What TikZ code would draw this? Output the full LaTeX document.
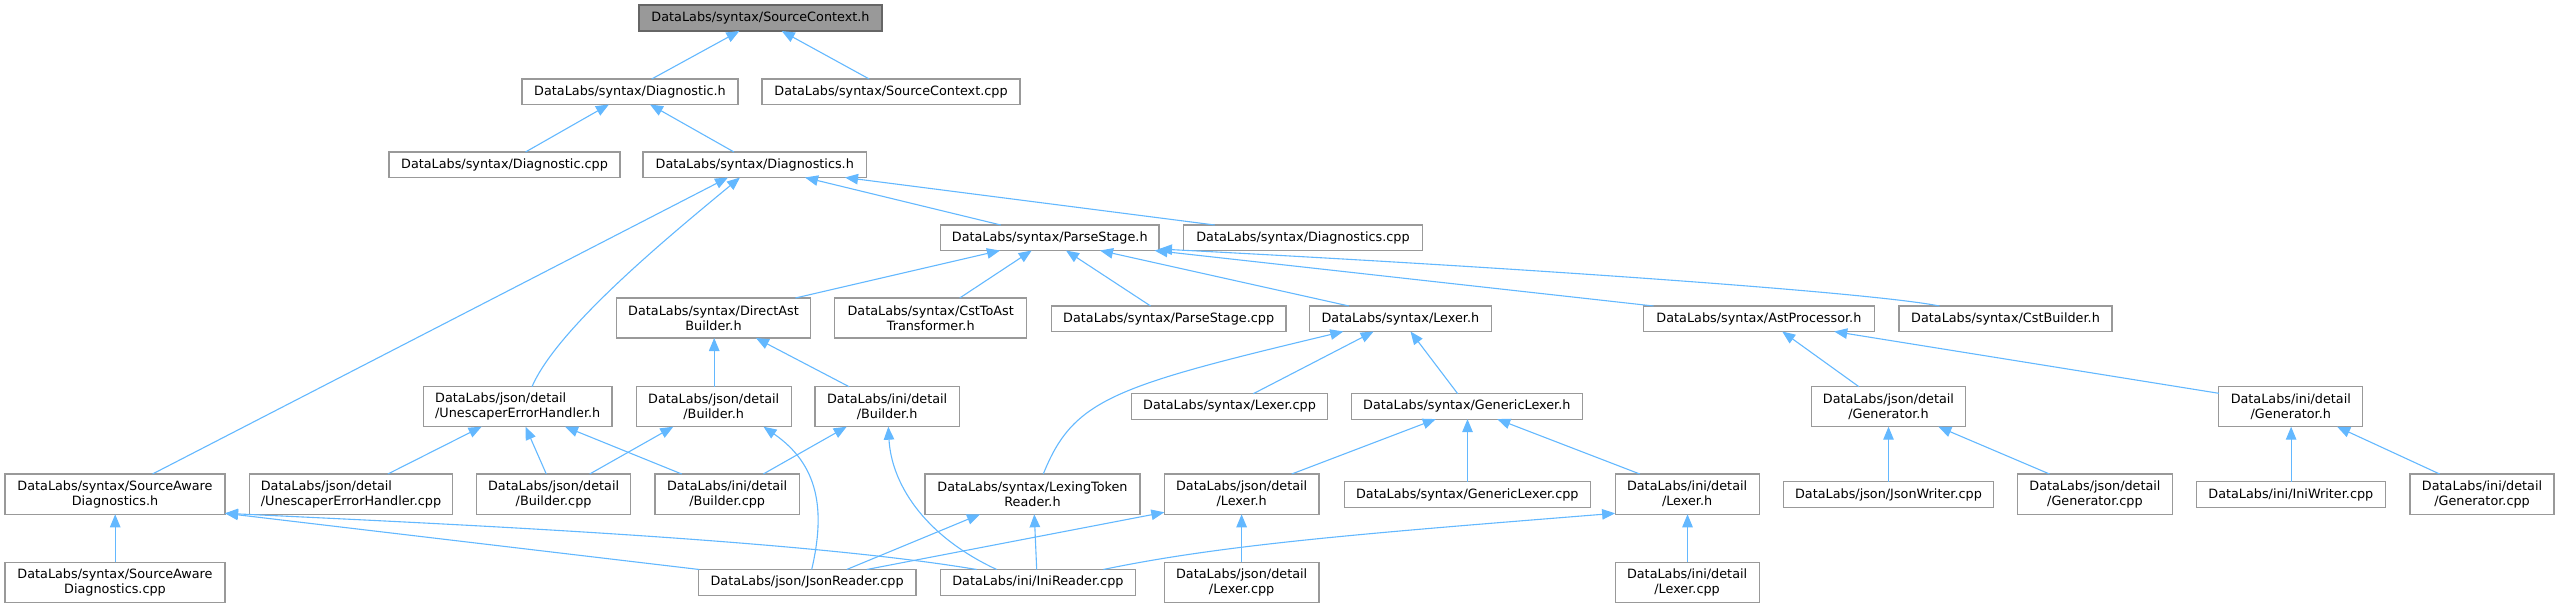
\documentclass[tikz,border=0pt]{standalone}
\usepackage{fontspec}
\setmainfont{DejaVu Sans}
\usetikzlibrary{arrows.meta}
\definecolor{edgeblue}{HTML}{63B8FF}
\definecolor{boxgray}{HTML}{999999}
\definecolor{rootborder}{HTML}{666666}
\begin{document}
\begin{tikzpicture}[x=1pt,y=-1pt,
  box/.style={draw=boxgray, line width=1.2pt, fill=white, inner sep=0pt, outer sep=0pt,
    anchor=north west, align=center, font=\fontsize{12.8}{15}\selectfont},
  rootbox/.style={box, fill=boxgray, draw=rootborder},
  lbox/.style={box, align=left},
  edge/.style={draw=edgeblue, line width=1.1pt, -{Triangle[length=13pt,width=10.5pt]}}]
\useasboundingbox (0,0) rectangle (2559,608);
% nodes
\node[rootbox, minimum width=243pt, minimum height=26pt] (sc) at (639,5) {DataLabs/syntax/SourceContext.h};
\node[box, minimum width=216pt, minimum height=25.5pt] (dgh) at (522,79) {DataLabs/syntax/Diagnostic.h};
\node[box, minimum width=258pt, minimum height=25.5pt] (scc) at (762,79) {DataLabs/syntax/SourceContext.cpp};
\node[box, minimum width=231pt, minimum height=25.5pt] (dgc) at (389,152) {DataLabs/syntax/Diagnostic.cpp};
\node[box, minimum width=223.5pt, minimum height=25.5pt] (dsh) at (643,152) {DataLabs/syntax/Diagnostics.h};
\node[box, minimum width=218.5pt, minimum height=25.5pt] (psh) at (940.5,225) {DataLabs/syntax/ParseStage.h};
\node[box, minimum width=239pt, minimum height=25.5pt] (dsc) at (1183.5,225) {DataLabs/syntax/Diagnostics.cpp};
\node[box, minimum width=194pt, minimum height=40pt] (dab) at (616.5,298) {DataLabs/syntax/DirectAst\\Builder.h};
\node[box, minimum width=192pt, minimum height=40pt] (cta) at (834.7,298) {DataLabs/syntax/CstToAst\\Transformer.h};
\node[box, minimum width=234.7pt, minimum height=25.5pt] (psc) at (1051.3,306) {DataLabs/syntax/ParseStage.cpp};
\node[box, minimum width=181.5pt, minimum height=25.5pt] (lxh) at (1309.6,306) {DataLabs/syntax/Lexer.h};
\node[box, minimum width=230.6pt, minimum height=25.5pt] (aph) at (1643.6,306) {DataLabs/syntax/AstProcessor.h};
\node[box, minimum width=213pt, minimum height=25.5pt] (csb) at (1899,306) {DataLabs/syntax/CstBuilder.h};
\node[lbox, minimum width=188.6pt, minimum height=40pt] (ueh) at (423.4,386.7) {DataLabs/json/detail\\/UnescaperErrorHandler.h};
\node[box, minimum width=155pt, minimum height=40pt] (jbh) at (636.2,386.7) {DataLabs/json/detail\\/Builder.h};
\node[box, minimum width=144.3pt, minimum height=40pt] (ibh) at (815,386.7) {DataLabs/ini/detail\\/Builder.h};
\node[box, minimum width=196.3pt, minimum height=25.4pt] (lxc) at (1131.4,393.7) {DataLabs/syntax/Lexer.cpp};
\node[box, minimum width=231pt, minimum height=25.4pt] (glh) at (1351.3,393.7) {DataLabs/syntax/GenericLexer.h};
\node[box, minimum width=154.5pt, minimum height=40pt] (jgh) at (1811.2,386.7) {DataLabs/json/detail\\/Generator.h};
\node[box, minimum width=144pt, minimum height=40pt] (igh) at (2218.8,386.7) {DataLabs/ini/detail\\/Generator.h};
\node[box, minimum width=220pt, minimum height=40.3pt] (sah) at (5,474) {DataLabs/syntax/SourceAware\\Diagnostics.h};
\node[lbox, minimum width=203pt, minimum height=40.3pt] (uec) at (249.5,474) {DataLabs/json/detail\\/UnescaperErrorHandler.cpp};
\node[box, minimum width=154pt, minimum height=40.3pt] (jbc) at (476.6,474) {DataLabs/json/detail\\/Builder.cpp};
\node[box, minimum width=144.3pt, minimum height=40.3pt] (ibc) at (655,474) {DataLabs/ini/detail\\/Builder.cpp};
\node[box, minimum width=215pt, minimum height=40.3pt] (ltr) at (925,474) {DataLabs/syntax/LexingToken\\Reader.h};
\node[box, minimum width=154.7pt, minimum height=40.3pt] (jlh) at (1164.3,474) {DataLabs/json/detail\\/Lexer.h};
\node[box, minimum width=246.2pt, minimum height=25.6pt] (glc) at (1344.2,481.7) {DataLabs/syntax/GenericLexer.cpp};
\node[box, minimum width=144pt, minimum height=40.3pt] (ilh) at (1615.1,474) {DataLabs/ini/detail\\/Lexer.h};
\node[box, minimum width=210.3pt, minimum height=25.6pt] (jwc) at (1783.3,481.7) {DataLabs/json/JsonWriter.cpp};
\node[box, minimum width=154.5pt, minimum height=40.3pt] (jgc) at (2017.7,474) {DataLabs/json/detail\\/Generator.cpp};
\node[box, minimum width=189pt, minimum height=25.6pt] (iwc) at (2196.3,481.7) {DataLabs/ini/IniWriter.cpp};
\node[box, minimum width=144pt, minimum height=40.3pt] (igc) at (2410,474) {DataLabs/ini/detail\\/Generator.cpp};
\node[box, minimum width=220pt, minimum height=40.3pt] (sac) at (5,562.3) {DataLabs/syntax/SourceAware\\Diagnostics.cpp};
\node[box, minimum width=217.6pt, minimum height=25.6pt] (jrc) at (698.3,569.5) {DataLabs/json/JsonReader.cpp};
\node[box, minimum width=195pt, minimum height=25.6pt] (irc) at (940.4,569.5) {DataLabs/ini/IniReader.cpp};
\node[box, minimum width=154.7pt, minimum height=40.3pt] (jlc) at (1164.3,562.3) {DataLabs/json/detail\\/Lexer.cpp};
\node[box, minimum width=144pt, minimum height=40.3pt] (ilc) at (1615.1,562.3) {DataLabs/ini/detail\\/Lexer.cpp};
% edges (child -> parent)
\draw[edge] ([xshift=129.7pt]dgh.north west) -- ([xshift=100.4pt]sc.south west);
\draw[edge] ([xshift=107.2pt]scc.north west) -- ([xshift=142.7pt]sc.south west);
\draw[edge] ([xshift=136.5pt]dgc.north west) -- ([xshift=86.9pt]dgh.south west);
\draw[edge] ([xshift=91pt]dsh.north west) -- ([xshift=128pt]dgh.south west);
\draw[edge] ([xshift=147.5pt]sah.north west) -- ([xshift=85pt]dsh.south west);
\draw[edge] ([xshift=108.6pt]ueh.north west) .. controls +(25,-58) and +(-75,62) .. ([xshift=97pt]dsh.south west);
\draw[edge] ([xshift=60.3pt]psh.north west) -- ([xshift=162pt]dsh.south west);
\draw[edge] ([xshift=31.2pt]dsc.north west) -- ([xshift=202pt]dsh.south west);
\draw[edge] ([xshift=178.9pt]dab.north west) -- ([xshift=59.5pt]psh.south west);
\draw[edge] ([xshift=125pt]cta.north west) -- ([xshift=91.2pt]psh.south west);
\draw[edge] ([xshift=99.3pt]psc.north west) -- ([xshift=125.5pt]psh.south west);
\draw[edge] ([xshift=39.4pt]lxh.north west) -- ([xshift=159.5pt]psh.south west);
\draw[edge] ([xshift=9.9pt]aph.north west) -- ([xshift=214pt]psh.south west);
\draw[edge] ([xshift=40.4pt]csb.north west) .. controls +(-70,-14) and +(350,18) .. ([yshift=1.5pt]psh.south east);
\draw[edge] ([xshift=78pt]jbh.north west) -- ([xshift=97.7pt]dab.south west);
\draw[edge] ([xshift=34.1pt]ibh.north west) -- ([xshift=139.4pt]dab.south west);
\draw[edge] ([xshift=138.3pt]uec.north west) -- ([xshift=58.2pt]ueh.south west);
\draw[edge] ([xshift=69.7pt]jbc.north west) -- ([xshift=102.1pt]ueh.south west);
\draw[edge] ([xshift=26.7pt]ibc.north west) -- ([xshift=141.6pt]ueh.south west);
\draw[edge] ([xshift=113.1pt]jbc.north west) -- ([xshift=37.1pt]jbh.south west);
\draw[edge] ([xshift=113.4pt]jrc.north west) .. controls +(14,-60) and +(55,38) .. ([xshift=127.3pt]jbh.south west);
\draw[edge] ([xshift=108.3pt]ibc.north west) -- ([xshift=31.7pt]ibh.south west);
\draw[edge] ([xshift=56.3pt]irc.north west) .. controls +(-75,-35) and +(3,55) .. ([xshift=73.3pt]ibh.south west);
\draw[edge] ([xshift=110.2pt]sac.north west) -- ([xshift=110.2pt]sah.south west);
\draw[edge] ([xshift=1pt]jrc.north west) -- ([yshift=1pt]sah.south east);
\draw[edge] ([xshift=36.3pt]irc.north west) .. controls +(-176.7,-29.7) and +(225,10.7) .. ([yshift=1pt]sah.south east);
\draw[edge] ([xshift=118.3pt]ltr.north west) .. controls +(30,-75) and +(-230,55) .. ([xshift=33.7pt]lxh.south west);
\draw[edge] ([xshift=121.9pt]lxc.north west) -- ([xshift=64pt]lxh.south west);
\draw[edge] ([xshift=106.4pt]glh.north west) -- ([xshift=100.9pt]lxh.south west);
\draw[edge] ([xshift=127.4pt]jlh.north west) -- ([xshift=84.5pt]glh.south west);
\draw[edge] ([xshift=123.3pt]glc.north west) -- ([xshift=116.2pt]glh.south west);
\draw[edge] ([xshift=24.7pt]ilh.north west) -- ([xshift=145.9pt]glh.south west);
\draw[edge] ([xshift=148.4pt]jrc.north west) -- ([xshift=55pt]ltr.south west);
\draw[edge] ([xshift=96.3pt]irc.north west) -- ([xshift=109.3pt]ltr.south west);
\draw[edge] ([xshift=168.4pt]jrc.north west) -- ([yshift=2pt]jlh.south west);
\draw[edge] ([xshift=77.3pt]jlc.north west) -- ([xshift=77.3pt]jlh.south west);
\draw[edge] ([xshift=162.9pt]irc.north west) .. controls +(120,-25) and +(-250,20) .. ([yshift=1pt]ilh.south west);
\draw[edge] ([xshift=72.4pt]ilc.north west) -- ([xshift=72.4pt]ilh.south west);
\draw[edge] ([xshift=47.7pt]jgh.north west) -- ([xshift=138.6pt]aph.south west);
\draw[edge] ([yshift=-6.6pt]igh.north west) -- ([xshift=190.6pt]aph.south west);
\draw[edge] ([xshift=105.2pt]jwc.north west) -- ([xshift=77.3pt]jgh.south west);
\draw[edge] ([xshift=31.8pt]jgc.north west) -- ([xshift=127.1pt]jgh.south west);
\draw[edge] ([xshift=94.8pt]iwc.north west) -- ([xshift=72.3pt]igh.south west);
\draw[edge] ([xshift=29.6pt]igc.north west) -- ([xshift=118.3pt]igh.south west);
\end{tikzpicture}
\end{document}
